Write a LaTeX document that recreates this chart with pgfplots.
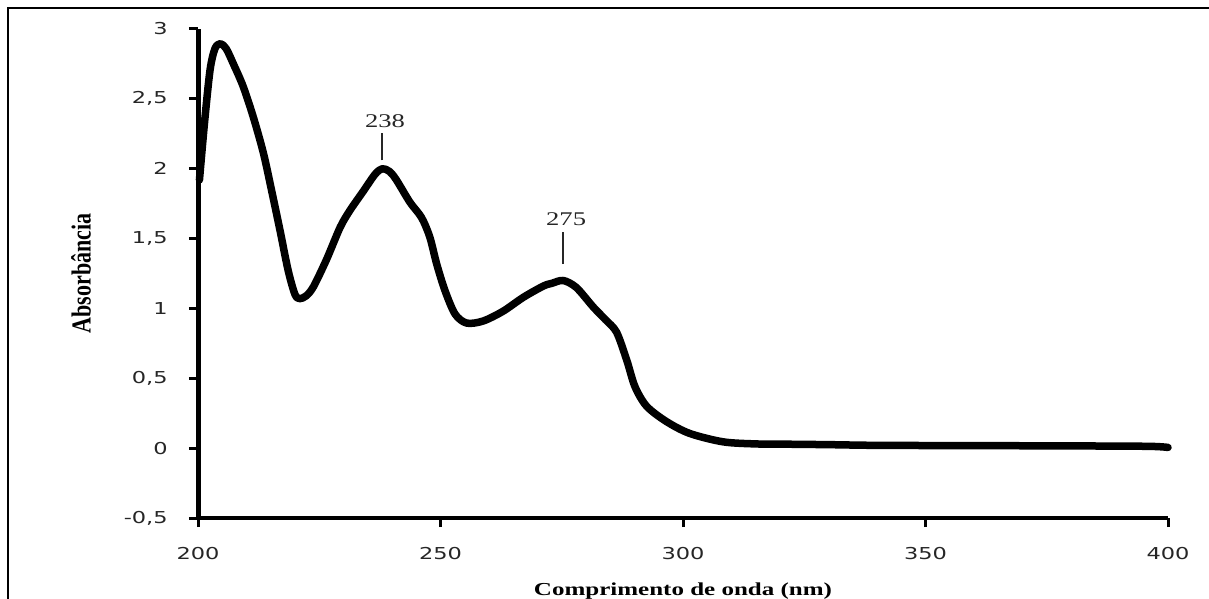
\documentclass[border=0pt]{standalone}
\usepackage{fontspec}
\usepackage{graphicx}
\usepackage{pgfplots}
\pgfplotsset{compat=1.18}
\setmainfont{Liberation Serif}
\newfontfamily\tickfont{DejaVu Sans}
\newcommand\tl[1]{\scalebox{1.37}[1]{\tickfont\fontsize{8.2}{10}\selectfont #1}}
\begin{document}
\begin{tikzpicture}
\begin{axis}[
  at={(0,0)}, anchor=south west,
  scale only axis, width=485pt, height=244.5pt,
  xmin=200, xmax=400, ymin=-0.5, ymax=3,
  axis x line*=bottom, axis y line*=left,
  x axis line style={-, line width=2pt},
  y axis line style={-, line width=2.5pt},
  xtick={200,250,300,350,400},
  ytick={-0.5,0,0.5,1,1.5,2,2.5,3},
  xticklabels={\tl{200},\tl{250},\tl{300},\tl{350},\tl{400}},
  yticklabels={\tl{-0,5},\tl{0},\tl{0,5},\tl{1},\tl{1,5},\tl{2},\tl{2,5},\tl{3}},
  tick align=outside, major tick length=4.5pt,
  tick style={line width=1.5pt, black},
  minor tick num=0,
  ticklabel style={text=black!85},
  yticklabel style={anchor=east, inner sep=0pt, xshift=-10.5pt},
  xticklabel style={anchor=north, inner sep=0pt, yshift=-10pt},
  xlabel={\scalebox{1.37}[1]{\bfseries\fontsize{9.13}{11}\selectfont Comprimento de onda (nm)}},
  ylabel={\scalebox{1}[1.25]{\bfseries\fontsize{11}{13}\selectfont Absorbância}},
  xlabel style={at={(axis description cs:0.5,0)}, anchor=base, yshift=-38.5pt, inner sep=0pt},
  ylabel style={at={(axis description cs:-0.1107,0.5)}, rotate=0, anchor=base, inner sep=0pt},
  clip=false,
]
\addplot[black, line width=3.75pt, smooth, line join=round, line cap=round] coordinates {
(200.3,1.92) (201.4,2.35) (202.5,2.71) (203.5,2.86) (204.6,2.895) (205.8,2.86)
(207.3,2.75) (209.3,2.59) (211.4,2.37) (213.5,2.11) (215.2,1.84) (216.9,1.56)
(218.6,1.27) (220.0,1.10) (221.0,1.07) (222.3,1.09) (223.8,1.155) (226.5,1.35)
(229.3,1.58) (231.3,1.70) (234.1,1.84) (236.5,1.96) (238.0,2.00) (239.5,1.98)
(240.9,1.92) (243.7,1.76) (246.1,1.65) (247.8,1.51) (249.2,1.32) (250.9,1.13)
(253.0,0.96) (255.4,0.895) (258.8,0.91) (262.9,0.98) (267.1,1.08) (271.2,1.16)
(273.0,1.18) (275.3,1.20) (278.0,1.15) (281.5,1.01) (284.0,0.92) (286.3,0.83)
(288.4,0.63) (290.1,0.44) (292.5,0.30) (296.6,0.19) (301.4,0.105) (308.3,0.045)
(315.2,0.03) (322,0.028) (330,0.025) (340,0.02) (360,0.018) (380,0.016)
(396,0.013) (400,0.005)
};
\draw[line width=0.8pt, black!85] (axis cs:237.9,2.06) -- (axis cs:237.9,2.255);
\draw[line width=0.8pt, black!85] (axis cs:275.3,1.317) -- (axis cs:275.3,1.548);
\node[anchor=base, inner sep=0pt, text=black!85, font=\fontsize{9.7}{11}\selectfont] at (axis cs:238.56,2.298) {\scalebox{1.37}[1]{238}};
\node[anchor=base, inner sep=0pt, text=black!85, font=\fontsize{9.7}{11}\selectfont] at (axis cs:275.9,1.596) {\scalebox{1.37}[1]{275}};
\end{axis}
\draw[line width=1pt, black] (-95pt,-40.5pt) -- (-95pt,255pt) -- (505.5pt,255pt);
\pgfresetboundingbox
\path[use as bounding box] (-99pt,-40.5pt) rectangle (505.5pt,259pt);
\end{tikzpicture}
\end{document}
